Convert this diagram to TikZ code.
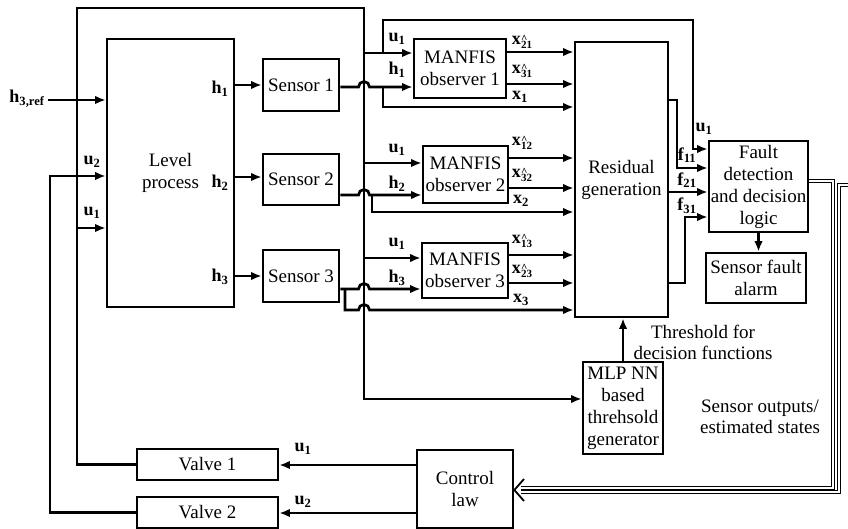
\documentclass[tikz,border=0pt]{standalone}
\usepackage{fontspec}
\setmainfont{Liberation Serif}
\usetikzlibrary{arrows.meta}
\newcommand{\xh}[1]{x\kern0.3pt\rlap{\raisebox{2.5pt}{\fontsize{11}{11}\selectfont\textasciicircum}}\raisebox{-4pt}{\fontsize{11}{11}\selectfont #1}}
\begin{document}
\begin{tikzpicture}[x=1pt,y=-1pt,
  line width=2.7pt,
  box/.style={draw, line width=2.7pt, inner sep=0pt, align=center, font=\fontsize{19}{22}\selectfont},
  lab/.style={inner sep=0pt, font=\fontsize{18}{20}\selectfont\bfseries},
  txt/.style={inner sep=0pt, align=center, font=\fontsize{19}{21}\selectfont},
  arr/.style={-{Latex[length=10.5pt,width=8.5pt]}},
  dbl/.style={double, double distance=1.4pt, line width=1.1pt},
]
\useasboundingbox (0,0) rectangle (848,529);

% boxes
\node[box, minimum width=127pt, minimum height=268pt] (lp) at (170.5,173) {Level\\process};
\node[box, minimum width=76pt, minimum height=52pt] (s1) at (301,85) {Sensor 1};
\node[box, minimum width=76pt, minimum height=51pt] (s2) at (301,179.5) {Sensor 2};
\node[box, minimum width=76pt, minimum height=52pt] (s3) at (301,276) {Sensor 3};
\node[box, minimum width=92pt, minimum height=59pt] (m1) at (460,68.5) {MANFIS\\observer 1};
\node[box, minimum width=85pt, minimum height=57pt] (m2) at (465.5,174.5) {MANFIS\\observer 2};
\node[box, minimum width=86pt, minimum height=55pt] (m3) at (465,270.5) {MANFIS\\observer 3};
\node[box, minimum width=93pt, minimum height=275pt] (rg) at (621.5,179.5) {Residual\\generation};
\node[box, minimum width=99pt, minimum height=91pt] (fd) at (758.5,186.5) {Fault\\detection\\and decision\\logic};
\node[box, minimum width=100pt, minimum height=50pt] (sa) at (756,278) {Sensor fault\\alarm};
\node[box, minimum width=80pt, minimum height=92pt] (mlp) at (623,408) {MLP NN\\based\\threhsold\\generator};
\node[box, minimum width=96pt, minimum height=78pt] (cl) at (465,489) {Control\\law};
\node[box, minimum width=141pt, minimum height=31pt] (v1) at (207.5,464.5) {Valve 1};
\node[box, minimum width=141pt, minimum height=31pt] (v2) at (207.5,512.5) {Valve 2};

\node[txt] (thr) at (703,342) {Threshold for\\decision functions};
\node[txt] (sos) at (760,417) {Sensor outputs/\\estimated states};

% outer u1 loop
\coordinate (tl) at (77,8);
\coordinate (tr) at (364,8);
\draw[arr] (v1.west) -| (tl) -- (tr) |- (mlp.west |- 0,399);
\draw[arr] (77,228) -- (lp.west |- 0,228);
\draw[arr] (364,53) -- (m1.west |- 0,53);
\draw[arr] (364,163) -- (m2.west |- 0,163);
\draw[arr] (364,258) -- (m3.west |- 0,258);
\draw[arr] (383,53) -- (383,20) -| (693,149) -- (fd.west |- 0,149);

% u2 and reference
\draw[arr] (v2.west) -| (50,176) -- (lp.west |- 0,176);
\draw[arr] (48,100) -- (lp.west |- 0,100);

% level process to sensors
\draw[arr] (lp.east |- 0,85) -- (s1.west |- 0,85);
\draw[arr] (lp.east |- 0,177) -- (s2.west |- 0,177);
\draw[arr] (lp.east |- 0,276) -- (s3.west |- 0,276);

% sensors to observers
\draw[arr] (s1.east |- 0,87) -- (358.5,87) arc[start angle=180,end angle=0,radius=5.5pt] -- (m1.west |- 0,87);
\draw[arr] (383,87) |- (rg.west |- 0,107);
\draw[arr] (s2.east |- 0,195) -- (358.5,195) arc[start angle=180,end angle=0,radius=5.5pt] -- (m2.west |- 0,195);
\draw[arr] (372,195) |- (rg.west |- 0,212);
\draw[arr] (s3.east |- 0,289) -- (358.5,289) arc[start angle=180,end angle=0,radius=5.5pt] -- (m3.west |- 0,289);
\draw[arr] (345,289) |- (358.5,310) arc[start angle=180,end angle=0,radius=5.5pt] -- (rg.west |- 0,310);

% observers to residual
\draw[arr] (m1.east |- 0,52) -- (rg.west |- 0,52);
\draw[arr] (m1.east |- 0,84) -- (rg.west |- 0,84);
\draw[arr] (m2.east |- 0,158) -- (rg.west |- 0,158);
\draw[arr] (m2.east |- 0,188) -- (rg.west |- 0,188);
\draw[arr] (m3.east |- 0,255) -- (rg.west |- 0,255);
\draw[arr] (m3.east |- 0,283) -- (rg.west |- 0,283);

% residual to fault detection
\draw[arr] (rg.east |- 0,100) -- (677,100) |- (fd.west |- 0,168);
\draw[arr] (rg.east |- 0,192) -- (fd.west |- 0,192);
\draw[arr] (rg.east |- 0,283) -- (685,283) |- (fd.west |- 0,217);
\draw[arr] (fd.south) -- (fd.south |- sa.north);
\draw[arr] (mlp.north) -- (mlp.north |- rg.south);

% control law to valves
\draw[arr] (cl.west |- 0,465) -- (v1.east |- 0,465);
\draw[arr] (cl.west |- 0,513) -- (v2.east |- 0,513);

% double feedback lines
\draw[dbl] (fd.east |- 0,181) -- (833,181) -- (833,488) -- (521,488);
\draw[dbl] (848,185) -- (839,185) -- (839,492) -- (521,492);
\draw[line width=1.8pt] (524,479) -- (cl.east |- 0,490) -- (524,501);

% labels
\node[lab] at (27,99) {h\textsubscript{3,ref}};
\node[lab] at (92,162) {u\textsubscript{2}};
\node[lab] at (92,213) {u\textsubscript{1}};
\node[lab] at (220,89) {h\textsubscript{1}};
\node[lab] at (220,183) {h\textsubscript{2}};
\node[lab] at (220,277) {h\textsubscript{3}};
\node[lab] at (397,39) {u\textsubscript{1}};
\node[lab] at (397,70) {h\textsubscript{1}};
\node[lab] at (522,42) {\xh{21}};
\node[lab] at (522,71) {\xh{31}};
\node[lab] at (520,97) {x\textsubscript{1}};
\node[lab] at (397,150) {u\textsubscript{1}};
\node[lab] at (397,184) {h\textsubscript{2}};
\node[lab] at (522,143) {\xh{12}};
\node[lab] at (522,175) {\xh{32}};
\node[lab] at (521,201) {x\textsubscript{2}};
\node[lab] at (397,244) {u\textsubscript{1}};
\node[lab] at (397,278) {h\textsubscript{3}};
\node[lab] at (522,241) {\xh{13}};
\node[lab] at (522,271) {\xh{23}};
\node[lab] at (521,300) {x\textsubscript{3}};
\node[lab] at (704,129) {u\textsubscript{1}};
\node[lab] at (687,155) {f\textsubscript{11}};
\node[lab] at (687,180) {f\textsubscript{21}};
\node[lab] at (687,206) {f\textsubscript{31}};
\node[lab] at (303,449) {u\textsubscript{1}};
\node[lab] at (303,502) {u\textsubscript{2}};
\end{tikzpicture}
\end{document}
